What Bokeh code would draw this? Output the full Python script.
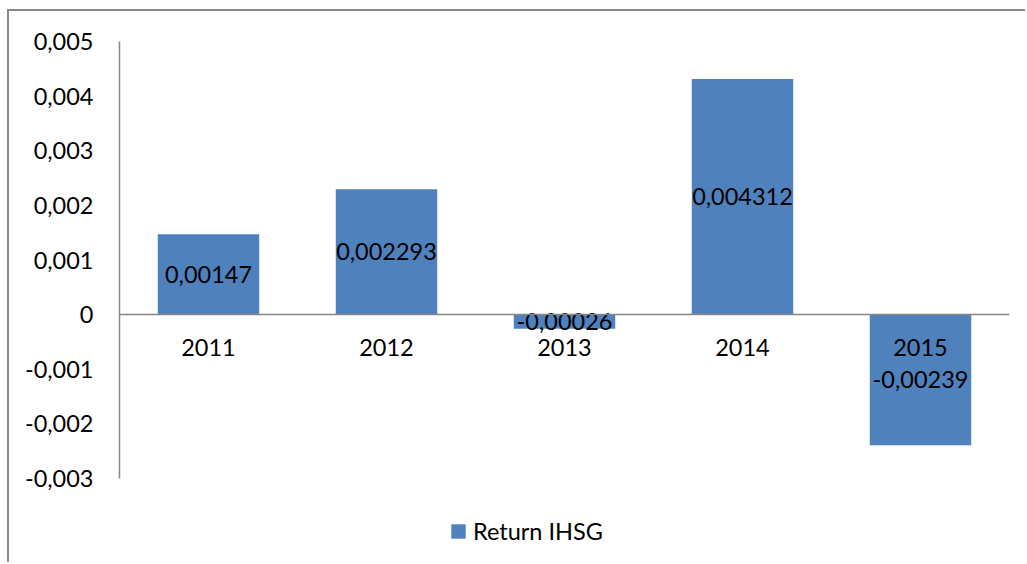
from bokeh.plotting import figure
from bokeh.models import (Range1d, FactorRange, FixedTicker, CategoricalAxis,
                          Legend, LegendItem, ColumnDataSource)
from bokeh.core.properties import value
from bokeh.embed import file_html
from bokeh.resources import INLINE

# ---- data ----
years = ["2011", "2012", "2013", "2014", "2015"]
returns = [0.00147, 0.002293, -0.00026, 0.004312, -0.00239]
y_ticks = [-0.003, -0.002, -0.001, 0, 0.001, 0.002, 0.003, 0.004, 0.005]
y_tick_labels = ["-0,003", "-0,002", "-0,001", "0", "0,001", "0,002", "0,003", "0,004", "0,005"]
series_name = "Return IHSG"

FONT = "Lato"
FS = "23.5px"
BAR = "#4f81bd"
AXIS = "#868686"

labels = [str(v).replace(".", ",") for v in returns]
src = ColumnDataSource(dict(x=years, top=returns, mid=[v / 2 for v in returns], lab=labels))

# frame: 523 px tall; axis span (-0.003..0.005) occupies the top 437 px
y_end = y_ticks[-1]
y_start = y_end - (523.0 / 437.0) * (y_ticks[-1] - y_ticks[0])

p = figure(width=1018, height=553, output_backend="svg", toolbar_location=None,
           x_range=FactorRange(*years, range_padding=0),
           y_range=Range1d(y_start, y_end),
           x_axis_location=None, y_axis_location="left",
           min_border_left=110, min_border_top=30, min_border_right=18, min_border_bottom=0)
p.styles = {"margin-left": "7px", "margin-top": "9px",
            "border-left": "2px solid #888888", "border-top": "2px solid #888888"}
p.outline_line_color = None
p.xgrid.grid_line_color = None
p.ygrid.grid_line_color = None
p.background_fill_color = "white"
p.border_fill_color = "white"

r = p.vbar(x="x", top="top", bottom=0, width=0.57, source=src,
           fill_color=BAR, line_color=None)

# value labels
p.text(x="x", y="mid", text="lab", source=src, text_align="center", text_baseline="middle",
       text_font=value(FONT), text_font_size=FS, text_color="black")

# y axis
ya = p.yaxis[0]
ya.ticker = FixedTicker(ticks=y_ticks)
ya.bounds = (y_ticks[0], y_ticks[-1])
ya.major_label_overrides = dict(zip(y_ticks, y_tick_labels))
ya.axis_line_color = AXIS
ya.axis_line_width = 1.5
ya.major_tick_line_color = None
ya.minor_tick_line_color = None
ya.major_tick_out = 0
ya.major_label_standoff = 26
ya.major_label_text_font = FONT
ya.major_label_text_font_size = FS
ya.major_label_text_color = "black"

# category axis at zero
xa = CategoricalAxis(fixed_location=0)
xa.axis_line_color = AXIS
xa.axis_line_width = 1.5
xa.major_tick_line_color = None
xa.minor_tick_line_color = None
xa.major_tick_out = 0
xa.major_label_standoff = 24
xa.major_label_text_font = FONT
xa.major_label_text_font_size = FS
xa.major_label_text_color = "black"
p.add_layout(xa, "below")

legend = Legend(items=[LegendItem(label=series_name, renderers=[r])],
                location=(330, 19), orientation="horizontal",
                padding=0, margin=0, spacing=0,
                glyph_width=18, glyph_height=18, label_standoff=6,
                border_line_color=None, background_fill_alpha=0,
                label_text_font=FONT, label_text_font_size=FS, label_text_color="black")
p.add_layout(legend, "center")

open("out.html", "w").write(file_html(p, INLINE))
